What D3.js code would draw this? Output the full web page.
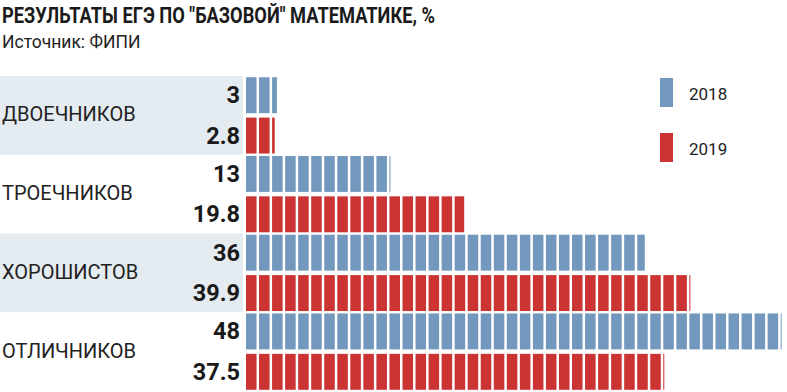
<!DOCTYPE html>
<html>
<head>
<meta charset="utf-8">
<script src="https://cdn.jsdelivr.net/npm/d3@7"></script>
<style>
  body { margin: 0; background: #fff; }
  svg { display: block; }
</style>
</head>
<body>
<svg id="chart" width="787" height="392"></svg>
<script>
const categories = ["ДВОЕЧНИКОВ", "ТРОЕЧНИКОВ", "ХОРОШИСТОВ", "ОТЛИЧНИКОВ"];
const years = ["2018", "2019"];
const values2018 = [3, 13, 36, 48];
const values2019 = [2.8, 19.8, 39.9, 37.5];
const valueLabels2018 = ["3", "13", "36", "48"];
const valueLabels2019 = ["2.8", "19.8", "39.9", "37.5"];

const colors = {"2018": "#7398be", "2019": "#cc3333"};
const bandFill = "#e4ebf1";
const segStep = 1.17; // one block of the bar, in percent units

const svg = d3.select("#chart");

// title
svg.append("text")
    .attr("x", 2).attr("y", 23)
    .attr("font-family", "Roboto, sans-serif")
    .attr("font-weight", "bold")
    .attr("font-size", 22)
    .attr("fill", "#1a1a1a")
    .attr("textLength", 433)
    .attr("lengthAdjust", "spacingAndGlyphs")
    .text('РЕЗУЛЬТАТЫ ЕГЭ ПО "БАЗОВОЙ" МАТЕМАТИКЕ, %');

svg.append("text")
    .attr("x", 2).attr("y", 48)
    .attr("font-family", "Roboto, sans-serif")
    .attr("font-size", 17.5)
    .attr("fill", "#222")
    .text("Источник: ФИПИ");

const y = d3.scaleBand()
    .domain(categories)
    .range([76, 391])
    .paddingInner(0);

const yInner = d3.scaleBand()
    .domain(years)
    .range([0, y.bandwidth()])
    .paddingInner(0.11)
    .paddingOuter(0.03);

const x = d3.scaleLinear()
    .domain([0, 48])
    .range([246, 781]);

// light bands behind 1st and 3rd category
svg.selectAll(".band")
    .data(categories.filter((d, i) => i % 2 === 0))
    .enter()
    .append("rect")
    .attr("class", "band")
    .attr("x", 0)
    .attr("width", 243)
    .attr("y", d => y(d))
    .attr("height", y.bandwidth())
    .attr("fill", bandFill);

// category labels
svg.selectAll(".cat")
    .data(categories)
    .enter()
    .append("text")
    .attr("x", 2)
    .attr("y", d => y(d) + y.bandwidth() / 2 + 6)
    .attr("font-family", "Roboto, sans-serif")
    .attr("font-size", 20)
    .attr("fill", "#222")
    .text(d => d);

const rows = [];
categories.forEach((c, i) => {
    rows.push({cat: c, year: "2018", value: values2018[i], label: valueLabels2018[i]});
    rows.push({cat: c, year: "2019", value: values2019[i], label: valueLabels2019[i]});
});

const g = svg.selectAll(".bar")
    .data(rows)
    .enter()
    .append("g")
    .attr("transform", d => `translate(0,${y(d.cat) + yInner(d.year)})`);

// each bar is drawn as a row of blocks
g.each(function (d) {
    const segs = [];
    for (let s = 0; s < d.value; s += segStep) {
        segs.push([s, Math.min(s + segStep, d.value)]);
    }
    d3.select(this).selectAll("rect")
        .data(segs)
        .enter()
        .append("rect")
        .attr("x", s => x(s[0]))
        .attr("width", s => Math.max(1, x(s[1]) - x(s[0]) - 2.5))
        .attr("y", 0)
        .attr("height", yInner.bandwidth())
        .attr("fill", colors[d.year]);
});

g.append("text")
    .attr("x", 240)
    .attr("y", yInner.bandwidth() / 2 + 8)
    .attr("text-anchor", "end")
    .attr("font-family", "Roboto, sans-serif")
    .attr("font-weight", "bold")
    .attr("font-size", 23.5)
    .attr("fill", "#1a1a1a")
    .text(d => d.label);

// legend
const legend = svg.selectAll(".legend")
    .data(years)
    .enter()
    .append("g")
    .attr("transform", (d, i) => `translate(660,${78 + i * 55})`);

legend.append("rect")
    .attr("width", 13)
    .attr("height", 29)
    .attr("fill", d => colors[d]);

legend.append("text")
    .attr("x", 29)
    .attr("y", 22)
    .attr("font-family", "Roboto, sans-serif")
    .attr("font-size", 17)
    .attr("fill", "#222")
    .text(d => d);
</script>
</body>
</html>
